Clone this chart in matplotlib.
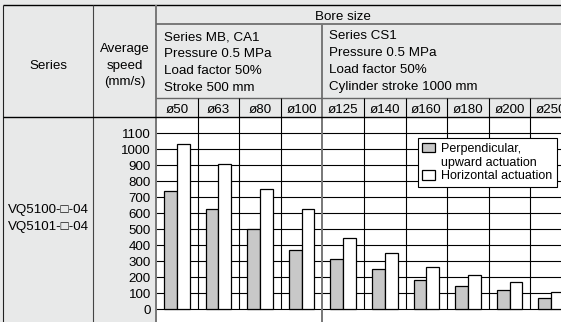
import numpy as np
import matplotlib
matplotlib.use('Agg')
import matplotlib.pyplot as plt
from matplotlib.patches import Rectangle

plt.rcParams['font.family'] = ['Liberation Sans', 'DejaVu Sans']

# ---- data ----
bores = ['ø50', 'ø63', 'ø80', 'ø100', 'ø125', 'ø140', 'ø160', 'ø180', 'ø200', 'ø250']
perpendicular = [737, 625, 502, 367, 312, 250, 179, 142, 117, 70]
horizontal = [1029, 908, 752, 625, 446, 352, 264, 210, 171, 108]
yticks = [0, 100, 200, 300, 400, 500, 600, 700, 800, 900, 1000, 1100]
series_labels = ['VQ5100-\u25a1-04', 'VQ5101-\u25a1-04']
speed_header = ['Average', 'speed', '(mm/s)']
spec_left = ['Series MB, CA1', 'Pressure 0.5 MPa', 'Load factor 50%', 'Stroke 500 mm']
spec_right = ['Series CS1', 'Pressure 0.5 MPa', 'Load factor 50%', 'Cylinder stroke 1000 mm']
legend_labels = ['Perpendicular,', 'upward actuation', 'Horizontal actuation']

# ---- layout ----
W, H = 561, 322
BG = '#e8e9e9'
FS = 9.6
AXL, AXT, COLW = 156, 117, 41.6
YMAX, YMIN = 1200, -81

fig = plt.figure(figsize=(W / 100, H / 100), dpi=100, facecolor=BG)

ax = fig.add_axes([AXL / W, 0, (W - AXL) / W, (H - AXT) / H])
xmax = (W - AXL) / COLW
ax.set_xlim(0, xmax)
ax.set_ylim(YMIN, YMAX)
ax.set_facecolor('white')
for s in ax.spines.values():
    s.set_visible(False)

n = len(bores)
x = np.arange(n)
bw = 0.31
ax.hlines(yticks, 0, xmax, color='black', lw=0.8, zorder=1)
ax.vlines([i for i in range(1, n) if i != 4], 0, YMAX, color='black', lw=0.8, zorder=1)
ax.vlines([4], YMIN, YMAX, color='#777777', lw=1.4, zorder=1.5)
b1 = ax.bar(x + 0.5 - bw / 2, perpendicular, bw, color='#c8c8c8',
            edgecolor='black', lw=0.9, zorder=2)
b2 = ax.bar(x + 0.5 + bw / 2, horizontal, bw, color='white',
            edgecolor='black', lw=0.9, zorder=2)

ax.set_yticks(yticks)
ax.tick_params(axis='y', length=0, pad=3.8, labelsize=FS)
ax.xaxis.tick_top()
ax.set_xticks(x + 0.5)
ax.set_xticklabels(bores)
ax.tick_params(axis='x', length=0, pad=0.5, labelsize=FS)

blank = Rectangle((0, 0), 1, 1, facecolor='none', edgecolor='none')
leg = ax.legend([b1, blank, b2], legend_labels, loc='upper right',
                bbox_to_anchor=((556.7 - AXL) / (W - AXL), (H - 138.3) / (H - AXT)),
                borderaxespad=0, fontsize=9, frameon=True, fancybox=False,
                framealpha=1, edgecolor='black', handlelength=1.0, handleheight=0.8,
                handletextpad=0.5, labelspacing=0.13, borderpad=0.35)
leg.get_frame().set_linewidth(0.8)
leg.set_zorder(5)

# ---- table overlay ----
tab = fig.add_axes([0, 0, 1, 1])
tab.set_xlim(0, W)
tab.set_ylim(H, 0)
tab.axis('off')
tab.set_zorder(3)
tab.patch.set_visible(False)


def hl(y, x0, x1, c, lw):
    tab.plot([x0, x1], [y, y], color=c, lw=lw, solid_capstyle='butt')


def vl(xx, y0, y1, c, lw):
    tab.plot([xx, xx], [y0, y1], color=c, lw=lw, solid_capstyle='butt')


hl(5, 3, W, 'black', 1.0)
vl(3.3, 5, H, '#222222', 0.8)
vl(93.3, 5, H, '#444444', 0.8)
vl(AXL, 5, H, '#777777', 1.4)
hl(24, AXL, W, '#666666', 1.2)
vl(AXL + 4 * COLW, 24, AXT, '#777777', 1.4)
hl(98, AXL, W, '#666666', 1.0)
for i in range(1, n):
    if i != 4:
        vl(AXL + i * COLW, 98, AXT, 'black', 0.8)
hl(AXT, 3, W, 'black', 1.0)

tab.text(48.5, 69, 'Series', ha='center', va='baseline', fontsize=FS)
for t, yb in zip(speed_header, [52, 68.5, 85]):
    tab.text(124.5, yb, t, ha='center', va='baseline', fontsize=FS)
tab.text(315, 20, 'Bore size', ha='left', va='baseline', fontsize=FS)
for t, yb in zip(spec_left, [40, 57, 74, 91]):
    tab.text(164.3, yb, t, ha='left', va='baseline', fontsize=FS)
for t, yb in zip(spec_right, [39, 56, 73, 90]):
    tab.text(329.3, yb, t, ha='left', va='baseline', fontsize=FS)
for t, yb in zip(series_labels, [212.5, 230]):
    tab.text(8.3, yb, t, ha='left', va='baseline', fontsize=FS)

fig.savefig('out.png', dpi=100, facecolor=BG)
